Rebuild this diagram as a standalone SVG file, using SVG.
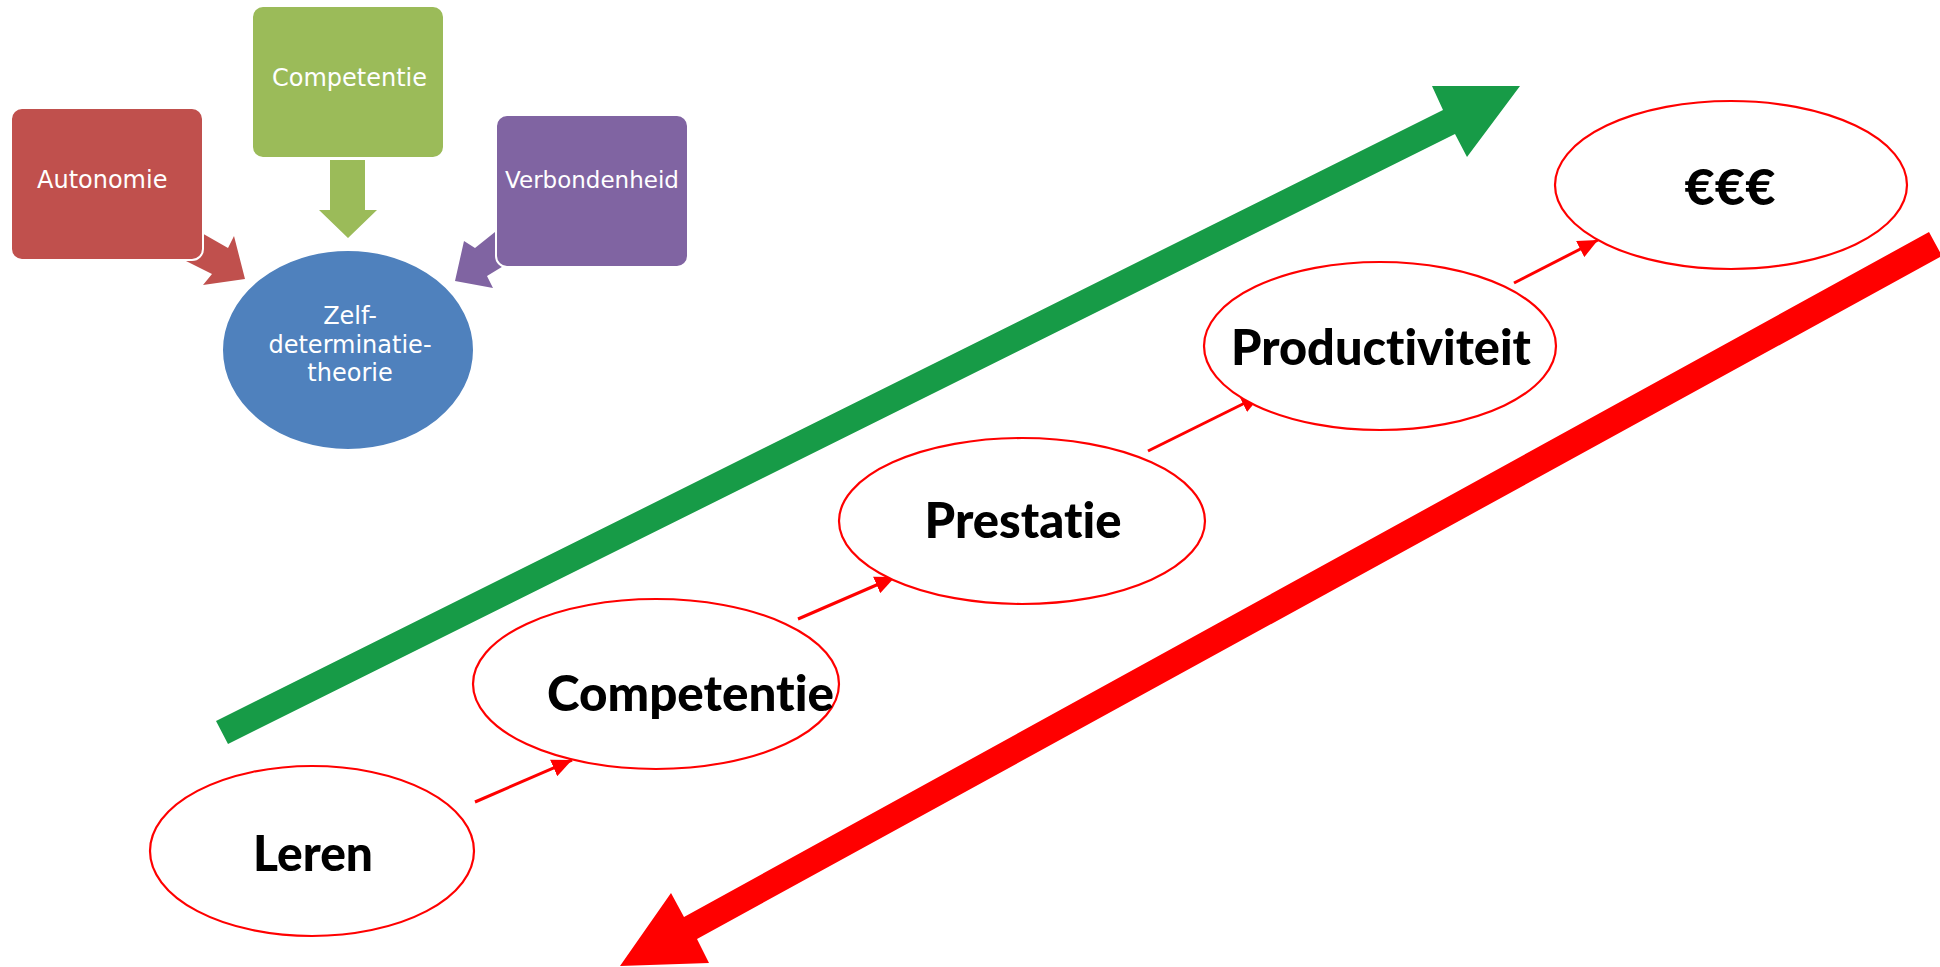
<svg xmlns="http://www.w3.org/2000/svg" width="1940" height="967" viewBox="0 0 1940 967">
<defs>
<style>
.box{stroke:#ffffff;stroke-width:2}
.wt{font-family:"DejaVu Sans",sans-serif;font-size:24px;fill:#ffffff}
.el{fill:#ffffff;stroke:#ff0000;stroke-width:2.2}
.lb{font-family:Lato,"Liberation Sans",sans-serif;font-weight:900;font-size:50px;fill:#000000;font-variant-ligatures:none;font-feature-settings:"liga" 0,"clig" 0}
.con{stroke:#ff0000;stroke-width:3;fill:none}
</style>
<marker id="ah" markerUnits="userSpaceOnUse" markerWidth="22" markerHeight="18" refX="20" refY="9" orient="auto">
<path d="M0,0 L20,9 L0,18 Z" fill="#ff0000"/>
</marker>
</defs>
<rect width="1940" height="967" fill="#ffffff"/>

<g id="sdt-arrows">
<polygon points="193,228 228,248 234,236 245,279 203,285 212,274 180,258" fill="#C0504D"/>
<polygon points="325,160 365,160 365,210 377,210 348,238 319,210 330,210 330,160" fill="#9BBB59"/>
<polygon points="500,228 475,248 464,241 455,281 493,288 487,276 510,262" fill="#8064A2"/>
</g>

<g id="autonomie">
<rect class="box" x="11" y="108" width="192" height="152" rx="11" fill="#C0504D"/>
<text class="wt" x="37" y="188">Autonomie</text>
</g>
<g id="competentie-box">
<rect class="box" x="252" y="6" width="192" height="152" rx="11" fill="#9BBB59"/>
<text class="wt" x="272" y="86">Competentie</text>
</g>
<g id="verbondenheid">
<rect class="box" x="496" y="115" width="192" height="152" rx="11" fill="#8064A2"/>
<text class="wt" x="592" y="188" text-anchor="middle" style="font-size:23px">Verbondenheid</text>
</g>
<g id="zelfdeterminatie">
<ellipse cx="348" cy="350" rx="126" ry="100" fill="#4F81BD" stroke="#ffffff" stroke-width="2"/>
<text class="wt" text-anchor="middle"><tspan x="350" y="324">Zelf-</tspan><tspan x="350" y="353">determinatie-</tspan><tspan x="350" y="381">theorie</tspan></text>
</g>

<g id="big-arrows">
<polygon id="green-arrow" points="216,721 1443,110 1432,86 1520,86 1467,157 1455,134 228,744" fill="#179B47"/>
<polygon id="red-arrow" points="1929,232 684,917 671,893 620,966 709,963 697,939 1942,256" fill="#FF0000"/>
</g>

<g id="connectors">
<line class="con" x1="475" y1="802" x2="572" y2="760" marker-end="url(#ah)"/>
<line class="con" x1="798" y1="619" x2="895" y2="577" marker-end="url(#ah)"/>
<line class="con" x1="1148" y1="451" x2="1261" y2="395" marker-end="url(#ah)"/>
<line class="con" x1="1514" y1="283" x2="1598" y2="240" marker-end="url(#ah)"/>
</g>

<g id="leren">
<ellipse class="el" cx="312" cy="851" rx="162" ry="85"/>
<text class="lb" x="313" y="871" text-anchor="middle" textLength="120" lengthAdjust="spacingAndGlyphs">Leren</text>
</g>
<g id="competentie">
<ellipse class="el" cx="656" cy="684" rx="183" ry="85"/>
<text class="lb" x="547" y="711" textLength="287" lengthAdjust="spacingAndGlyphs">Competentie</text>
</g>
<g id="prestatie">
<ellipse class="el" cx="1022" cy="521" rx="183" ry="83"/>
<text class="lb" x="1023" y="538" text-anchor="middle" textLength="197" lengthAdjust="spacingAndGlyphs">Prestatie</text>
</g>
<g id="productiviteit">
<ellipse class="el" cx="1380" cy="346" rx="176" ry="84"/>
<text class="lb" x="1381" y="365" text-anchor="middle" textLength="300" lengthAdjust="spacingAndGlyphs">Productiviteit</text>
</g>
<g id="euro">
<ellipse class="el" cx="1731" cy="185" rx="176" ry="84"/>
<text class="lb" x="1730" y="205" text-anchor="middle" textLength="91" lengthAdjust="spacingAndGlyphs">€€€</text>
</g>
</svg>
